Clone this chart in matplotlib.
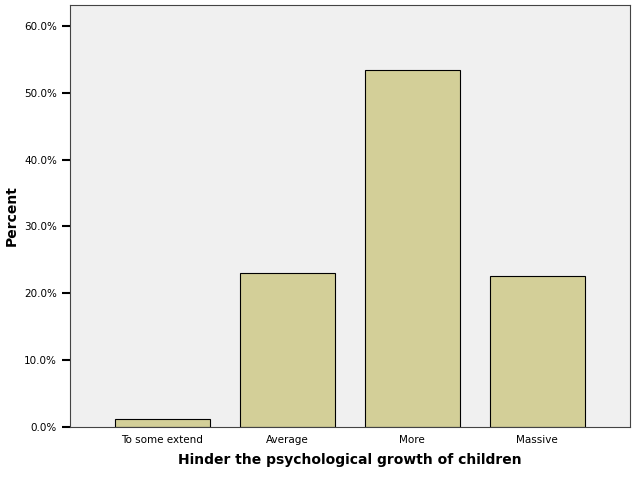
import numpy as np
import matplotlib
matplotlib.use("Agg")
import matplotlib.pyplot as plt
from matplotlib.ticker import FuncFormatter

categories = ["To some extend", "Average", "More", "Massive"]
percents = [1.1, 23.1, 53.5, 22.6]

fig = plt.figure(figsize=(6.38, 4.79), dpi=100)
ax = fig.add_axes([0.110, 0.109, 0.877, 0.881])
ax.set_facecolor("#f0f0f0")

x = np.arange(len(categories))
ax.bar(x, percents, width=0.76, color="#d3cf98", edgecolor="black", linewidth=0.8)

ax.set_xlim(-0.736, 3.74)
ax.set_ylim(0, 63.2)
ax.set_yticks(np.arange(0, 61, 10))
ax.yaxis.set_major_formatter(FuncFormatter(lambda v, p: f"{v:.1f}%"))
ax.set_xticks(x)
ax.set_xticklabels(categories)
ax.tick_params(axis="y", direction="out", length=6, width=1.5, labelsize=7.5)
ax.tick_params(axis="x", length=0, labelsize=7.5, pad=6)
for s in ax.spines.values():
    s.set_color("#444444")
    s.set_linewidth(0.8)

ax.set_ylabel("Percent", fontsize=10, fontweight="bold")
ax.set_xlabel("Hinder the psychological growth of children", fontsize=10, fontweight="bold", labelpad=6)

fig.savefig("out.png", dpi=100)
